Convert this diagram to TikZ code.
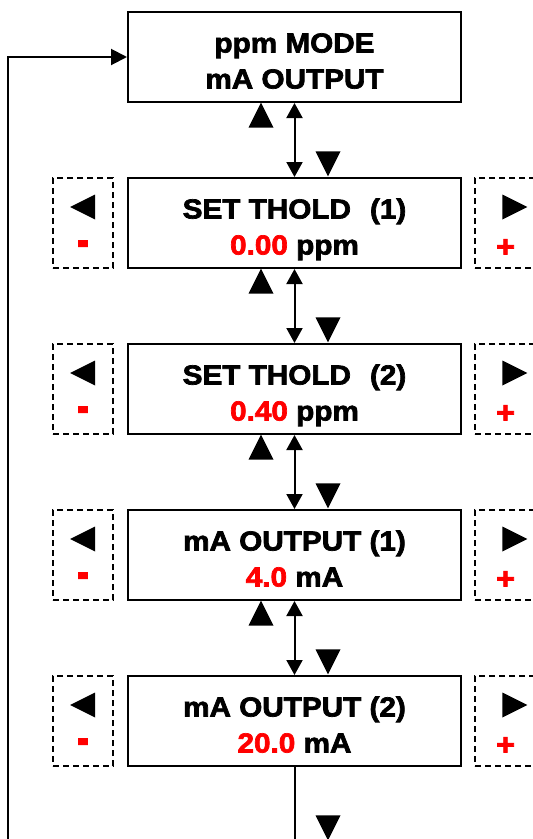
\documentclass[tikz,border=0pt]{standalone}
\usepackage{fontspec}
\usepackage{graphicx}
\usetikzlibrary{arrows.meta,shapes.geometric}
\newfontfamily\panelfont[FakeStretch=1.08,FakeBold=2.5]{Liberation Sans}
\definecolor{setred}{RGB}{255,0,0}

% struts so that the two lines sit as in the display
\newcommand{\firstline}[1]{\rule{0pt}{34pt}#1}
\newcommand{\secondline}[1]{#1\rule[-7pt]{0pt}{7pt}}
\newcommand{\setval}[1]{\textcolor{setred}{#1}}

\tikzset{
  modebox/.style={draw, line width=2pt, minimum width=333pt, minimum height=90pt,
    inner sep=0pt, align=center, font=\panelfont\bfseries\fontsize{27.5pt}{36pt}\selectfont},
  keybox/.style={draw, line width=1.3pt, dash pattern=on 6pt off 4pt,
    minimum width=60pt, minimum height=90pt, inner sep=0pt},
  keytri/.style={isosceles triangle, isosceles triangle stretches, fill=black,
    inner sep=0pt, outer sep=0pt, minimum width=25pt, minimum height=25pt},
  keysign/.style={text=setred, inner sep=0pt,
    font=\panelfont\bfseries\fontsize{30pt}{30pt}\selectfont},
  flow/.style={line width=2pt},
  tip/.style={-{Triangle[length=16pt,width=16pt]}},
  twotip/.style={{Triangle[length=15pt,width=16pt]}-{Triangle[length=15pt,width=16pt]}}
}

\begin{document}
\begin{tikzpicture}[x=1pt,y=-1pt]
  \useasboundingbox (0,0) rectangle (533,839);

  % 1. display boxes (centres 166pt apart)
  \node[modebox] (mode) at (294.5,57) {\firstline{ppm MODE}\\\secondline{mA OUTPUT}};
  \node[modebox] (thold1) at (294.5,223) {\firstline{SET THOLD\hspace{19pt}(1)}\\\secondline{\setval{0.00} ppm}};
  \node[modebox] (thold2) at (294.5,389) {\firstline{SET THOLD\hspace{19pt}(2)}\\\secondline{\setval{0.40} ppm}};
  \node[modebox] (out1) at (294.5,555) {\firstline{mA OUTPUT (1)}\\\secondline{\setval{4.0} mA}};
  \node[modebox] (out2) at (294.5,721) {\firstline{mA OUTPUT (2)}\\\secondline{\setval{20.0} mA}};

  % 2. dashed key boxes left (-) and right (+)
  \node[keybox] (minus1) at (83,223) {};
  \node[keybox] (minus2) at (83,389) {};
  \node[keybox] (minus3) at (83,555) {};
  \node[keybox] (minus4) at (83,721) {};
  \node[keybox] (plus1) at (505,223) {};
  \node[keybox] (plus2) at (505,389) {};
  \node[keybox] (plus3) at (505,555) {};
  \node[keybox] (plus4) at (505,721) {};

  % key symbols: triangle 16pt above, sign 25pt below the box centre
  \node[keytri, shape border rotate=180] (left1) at (87.5,207) {};
  \node[keytri, shape border rotate=180] (left2) at (87.5,373) {};
  \node[keytri, shape border rotate=180] (left3) at (87.5,539) {};
  \node[keytri, shape border rotate=180] (left4) at (87.5,705) {};
  \node[keytri] (right1) at (510,207) {};
  \node[keytri] (right2) at (510,373) {};
  \node[keytri] (right3) at (510,539) {};
  \node[keytri] (right4) at (510,705) {};

  \node[keysign] (dec1) at (83,248.5) {\scalebox{1.1}[1.6]{-}};
  \node[keysign] (dec2) at (83,414.5) {\scalebox{1.1}[1.6]{-}};
  \node[keysign] (dec3) at (83,580.5) {\scalebox{1.1}[1.6]{-}};
  \node[keysign] (dec4) at (83,746.5) {\scalebox{1.1}[1.6]{-}};
  \node[keysign] (inc1) at (505.5,248) {+};
  \node[keysign] (inc2) at (505.5,414) {+};
  \node[keysign] (inc3) at (505.5,580) {+};
  \node[keysign] (inc4) at (505.5,746) {+};

  % 3. up / down keys between the boxes
  \node[keytri, shape border rotate=90] (up1) at (261,120) {};
  \node[keytri, shape border rotate=90] (up2) at (261,286) {};
  \node[keytri, shape border rotate=90] (up3) at (261,452) {};
  \node[keytri, shape border rotate=90] (up4) at (261,618) {};
  \node[keytri, shape border rotate=-90] (down1) at (328,159) {};
  \node[keytri, shape border rotate=-90] (down2) at (328,325) {};
  \node[keytri, shape border rotate=-90] (down3) at (328,491) {};
  \node[keytri, shape border rotate=-90] (down4) at (328,657) {};
  \node[keytri, shape border rotate=-90] (down5) at (328,823) {};

  % 4. connectors
  \draw[flow, twotip] (mode) -- (thold1);
  \draw[flow, twotip] (thold1) -- (thold2);
  \draw[flow, twotip] (thold2) -- (out1);
  \draw[flow, twotip] (out1) -- (out2);

  % back to the start
  \coordinate (exit) at (294.5,845);
  \coordinate (back) at (8,845);
  \draw[flow] (out2) -- (exit);
  \draw[flow, tip] (back) |- (mode.west);
\end{tikzpicture}
\end{document}
